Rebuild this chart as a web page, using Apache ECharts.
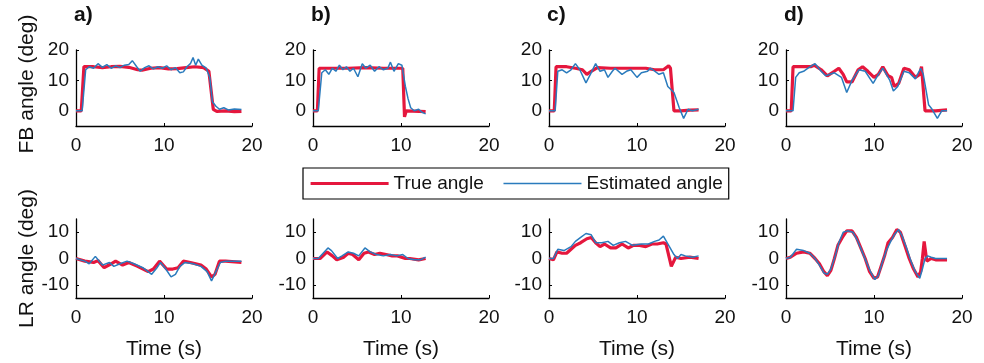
<!DOCTYPE html>
<html>
<head>
<meta charset="utf-8">
<script src="https://cdn.jsdelivr.net/npm/echarts@6/dist/echarts.min.js"></script>
<style>
  html, body { margin: 0; padding: 0; background: #fff; }
  #chart { width: 984px; height: 363px; }
</style>
</head>
<body>
<div id="chart"></div>
<script>
// panel labels
var panelLabels = ['a)', 'b)', 'c)', 'd)'];
var xTicks = [0, 10, 20];
var fbTicks = [0, 10, 20];
var lrTicks = [-10, 0, 10];

// FB angle, [time, deg]
var fbTrueA = [[0,0],[0.6,0],[0.9,14.5],[2,14.5],[3,14.2],[4,14.5],[5,14.6],[6,14.3],[7,13.5],[7.5,13.4],[8.5,14],[9.5,14.2],[10.5,13.8],[11.5,13.9],[12.5,14.2],[13.5,14.5],[14.5,14.2],[15.1,13],[15.6,0.5],[16,-0.2],[17,0],[18,-0.3],[18.8,-0.2]];
var fbEstA = [[0,0],[0.7,0],[1.1,13.5],[1.5,14.5],[2,14],[2.5,15.5],[3,14.3],[3.5,15.2],[4,14],[4.5,14.8],[5,14.2],[5.5,15],[6,15.2],[6.4,16.5],[6.9,14.5],[7.3,13],[7.8,14.2],[8.3,14.8],[8.8,13.8],[9.3,14.5],[9.8,14],[10.3,14.8],[10.8,13.5],[11.3,14.2],[11.8,12.5],[12.2,12.8],[12.6,14.5],[13,15.5],[13.3,17.5],[13.6,15],[13.9,17],[14.3,15],[14.8,14],[15.2,11],[15.5,3],[15.9,1.5],[16.3,0.5],[16.8,1],[17.3,0.3],[18,0.6],[18.8,0.4]];
var fbTrueB = [[0,0],[0.5,0],[0.7,14],[2,14],[4,14],[6,14.2],[8,14],[10.2,14],[10.4,-2],[10.6,0],[12.8,-0.3]];
var fbEstB = [[0,0],[0.6,0],[1.0,12.5],[1.4,13.5],[1.8,12],[2.2,14],[2.6,13],[3,15],[3.4,13.5],[3.8,14.5],[4.2,13],[4.6,14],[5.1,11.2],[5.6,15.5],[6,14],[6.5,15],[7,13],[7.5,14.5],[8,13.5],[8.5,14],[8.8,16],[9.2,13],[9.7,15.5],[10.1,15],[10.5,8],[10.8,4],[11.1,1],[11.5,0],[12,0.5],[12.4,-0.5],[12.8,-1]];
var fbTrueC = [[0,0],[0.6,0],[0.8,14.5],[2,14.5],[3,14],[3.8,13.5],[4.3,12],[4.8,13],[5.5,14.2],[7,14],[9,14],[11,14],[12,13.5],[13,13.5],[13.6,14.8],[13.8,14],[14.2,0],[15,0],[16,0.2],[17,0.3]];
var fbEstC = [[0,0],[0.7,0],[1.0,13],[1.5,13.5],[2,12.5],[2.5,13.5],[3,15.5],[3.5,13.5],[4.2,9.2],[4.7,12],[5.3,15.5],[5.8,13],[6.3,13.5],[6.7,11],[7.2,13],[7.5,14],[8.3,12],[8.8,13],[9.3,13.5],[10,11],[10.5,12.5],[11.2,13],[11.5,14],[11.8,13.5],[12.5,12],[13,12.5],[13.5,8],[14.2,6],[14.8,1],[15.3,-2.5],[15.8,0.5],[16.3,0],[17,0.5]];
var fbTrueD = [[0,0],[0.6,0],[0.8,14.5],[2.8,14.5],[3.2,15],[4,13.5],[4.7,11.5],[5.5,13],[6,14],[6.5,12],[6.9,9.5],[7.5,9.5],[8.2,13.5],[8.7,14.5],[9.3,13],[10,11],[10.5,12],[11,14.5],[11.6,11.5],[12,11],[12.3,8],[12.8,9],[13.4,14],[14,13.5],[14.7,11],[15.2,12],[15.4,14.5],[15.8,0],[17,0],[18.3,0.3]];
var fbEstD = [[0,0],[0.8,0],[1.1,11],[1.5,12.5],[2,13],[2.5,14],[3.3,15.5],[4,13],[4.5,11.5],[5,12],[5.5,12.5],[6.3,11],[6.9,6],[7.5,10],[8.3,13.5],[9,13],[9.9,9],[10.5,12],[11,14],[11.8,10],[12.2,6.5],[12.7,8],[13.4,13],[14,12.5],[14.7,10.5],[15.3,14],[15.6,12],[16.2,2],[16.6,0.5],[17.2,-2.5],[17.7,0],[18.3,0]];

// LR angle, [time, deg]
var lrTrueA = [[0,0],[1,-1],[2,-1.5],[2.5,-0.8],[3.2,-3.5],[4,-2],[4.5,-1],[5.3,-2.5],[6,-1.5],[7,-3],[8.2,-5],[8.8,-4],[9.5,-1],[10.3,-4],[11,-4],[11.6,-3.5],[12.2,-1],[13,-1.5],[14.2,-2.5],[14.8,-4],[15.4,-7],[15.8,-6],[16.3,-1],[17,-1],[18.8,-1.5]];
var lrEstA = [[0,0],[1,-1],[1.5,-2],[2.2,0.8],[3,-2.5],[3.8,-1.5],[4.3,-3],[5,-2],[5.8,-1],[6.6,-2],[7.6,-3.5],[8.6,-6],[9.2,-3.5],[9.6,-1.5],[10.2,-4],[10.8,-7],[11.3,-6],[11.8,-3],[12.4,-1.5],[13.3,-2],[14.2,-3],[14.9,-5],[15.4,-8.5],[15.9,-5],[16.4,-1.5],[17,-1],[18.8,-1]];
var lrTrueB = [[0,0],[0.8,0],[1.6,2.5],[2.2,1],[2.7,-0.5],[3.5,0.5],[4,2],[4.5,1.5],[5.2,-0.5],[5.8,2],[6.3,2.5],[7,1.5],[7.6,2],[8.3,1.5],[9,1],[9.6,1],[10.5,0],[11,0],[12,-0.5],[12.8,0]];
var lrEstB = [[0,0],[0.6,0],[1.7,4],[2.1,3],[2.8,0],[3.3,1],[4,2.5],[4.6,2],[5.2,1],[5.9,4],[6.5,2.5],[7.2,1.5],[8,1],[8.8,1.5],[9.5,1],[10.2,1.5],[10.8,0],[11.5,-0.5],[12.2,-0.5],[12.8,0.5]];
var lrTrueC = [[0,0],[0.5,-0.5],[0.9,2.5],[1.5,2],[2,2],[2.5,3.5],[3,5],[3.6,6],[4.3,7.5],[4.8,8],[5.3,6],[5.8,4.5],[6.3,5.5],[7,4],[7.6,4],[8.3,5.5],[9,4],[9.6,5],[10.3,5],[11,4.5],[11.7,5.5],[12.3,5.5],[13,6],[13.3,5.5],[13.9,-3],[14.4,0.5],[15,0],[16,0.5],[17,0]];
var lrEstC = [[0,0],[0.5,0],[1,3.5],[1.7,3],[2.5,4.5],[3,6.5],[3.6,8],[4.2,9.5],[4.8,9],[5.3,6],[6,6],[6.7,6.5],[7.3,5],[8,6],[8.7,6.5],[9.5,5],[10.5,5.5],[11.3,5.5],[12,6.5],[12.5,7],[13,8.5],[13.6,5],[14.2,1.5],[14.6,0],[15,1.5],[15.5,1],[16.3,0.5],[17,1]];
var lrTrueD = [[0,0],[0.5,0.5],[1.2,2],[2,2.5],[2.7,2],[3.3,0],[3.8,-2],[4.3,-5],[4.7,-6.5],[5.1,-4.5],[5.5,0],[5.9,5],[6.4,8],[6.9,10.5],[7.5,10.5],[8,8],[8.5,4],[9,0],[9.5,-5],[10,-7.5],[10.4,-7],[10.8,-3],[11.2,1],[11.6,6],[12.1,8],[12.6,11],[13,10],[13.5,5],[14,0],[14.5,-4],[15,-7],[15.3,-5],[15.5,0],[15.7,6.5],[16,-1],[16.5,0],[17,-0.5],[18.3,-0.5]];
var lrEstD = [[0,0],[0.5,0.5],[1.2,3.5],[2,3],[2.7,2],[3.3,0],[3.8,-2.5],[4.3,-5.5],[4.7,-6],[5.1,-4],[5.6,1],[6,6],[6.5,10],[7,10.5],[7.6,10],[8.1,7],[8.6,3],[9.1,-1],[9.6,-5],[10.1,-8],[10.5,-6.5],[10.9,-2],[11.4,3],[11.9,6.5],[12.3,9],[12.8,11],[13.2,8.5],[13.7,4],[14.2,-1],[14.7,-5],[15.2,-7.5],[15.5,-4],[15.8,0],[16.1,1],[16.5,0.5],[17,0],[18.3,0]];

var fbTrue = [fbTrueA, fbTrueB, fbTrueC, fbTrueD];
var fbEst = [fbEstA, fbEstB, fbEstC, fbEstD];
var lrTrue = [lrTrueA, lrTrueB, lrTrueC, lrTrueD];
var lrEst = [lrEstA, lrEstB, lrEstC, lrEstD];

var FONT = 'Liberation Sans, Arial, sans-serif';
var RED = '#e5173d';
var BLUE = '#2a7bbd';
var gridLefts = [76, 313, 549, 786];

var dom = document.getElementById('chart');
var myChart = echarts.init(dom, null, {renderer: 'canvas'});

var grids = [], xAxes = [], yAxes = [], series = [], titles = [];

for (var row = 0; row < 2; row++) {
    for (var i = 0; i < 4; i++) {
        var idx = row * 4 + i;
        grids.push({
            left: gridLefts[i],
            top: row === 0 ? 50 : 219,
            width: 176,
            height: row === 0 ? 76 : 79
        });
        xAxes.push({
            type: 'value',
            gridIndex: idx,
            min: 0,
            max: 20,
            splitLine: {show: false},
            axisLine: {onZero: false, lineStyle: {color: '#000', width: 1.3}},
            axisTick: {inside: true, length: 3, customValues: xTicks, lineStyle: {color: '#000'}},
            axisLabel: {customValues: xTicks, color: '#111', fontSize: 19, fontFamily: FONT, margin: 10},
            name: row === 1 ? 'Time (s)' : '',
            nameLocation: 'middle',
            nameGap: 41,
            nameTextStyle: {color: '#111', fontSize: 21, fontFamily: FONT}
        });
        yAxes.push({
            type: 'value',
            gridIndex: idx,
            min: row === 0 ? -5 : -15,
            max: row === 0 ? 20 : 15,
            splitLine: {show: false},
            axisLine: {onZero: false, lineStyle: {color: '#000', width: 1.3}},
            axisTick: {inside: true, length: 3, customValues: row === 0 ? fbTicks : lrTicks, lineStyle: {color: '#000'}},
            axisLabel: {customValues: row === 0 ? fbTicks : lrTicks, color: '#111', fontSize: 19, fontFamily: FONT, margin: 7},
            name: i === 0 ? (row === 0 ? 'FB angle (deg)' : 'LR angle (deg)') : '',
            nameLocation: 'middle',
            nameGap: 38,
            nameTextStyle: {color: '#111', fontSize: 21, fontFamily: FONT,
                padding: row === 0 ? [0, 0, 0, 8] : 0}
        });
        series.push({
            name: 'True angle',
            type: 'line',
            xAxisIndex: idx,
            yAxisIndex: idx,
            data: row === 0 ? fbTrue[i] : lrTrue[i],
            symbol: 'none',
            lineStyle: {color: RED, width: 3.2},
            itemStyle: {color: RED}
        });
        series.push({
            name: 'Estimated angle',
            type: 'line',
            xAxisIndex: idx,
            yAxisIndex: idx,
            data: row === 0 ? fbEst[i] : lrEst[i],
            symbol: 'none',
            lineStyle: {color: BLUE, width: 1.5},
            itemStyle: {color: BLUE}
        });
    }
    if (row === 0) {
        for (var k = 0; k < 4; k++) {
            titles.push({
                text: panelLabels[k],
                left: gridLefts[k] - 2,
                top: 5,
                padding: 0,
                textStyle: {fontSize: 21, fontWeight: 'bold', color: '#111', fontFamily: FONT}
            });
        }
    }
}

var option = {
    animation: false,
    title: titles,
    legend: {
        data: [
            {name: 'True angle', lineStyle: {width: 3.2}},
            {name: 'Estimated angle', lineStyle: {width: 1.5}}
        ],
        left: 303,
        top: 168,
        itemWidth: 78,
        itemHeight: 12,
        itemGap: 19,
        padding: [6, 6, 6, 6],
        borderColor: '#000',
        borderWidth: 1.2,
        itemStyle: {opacity: 0},
        textStyle: {fontSize: 19, color: '#111', fontFamily: FONT}
    },
    grid: grids,
    xAxis: xAxes,
    yAxis: yAxes,
    series: series
};
if (option && typeof option === "object") {
    myChart.setOption(option, true);
}
</script>
</body>
</html>
